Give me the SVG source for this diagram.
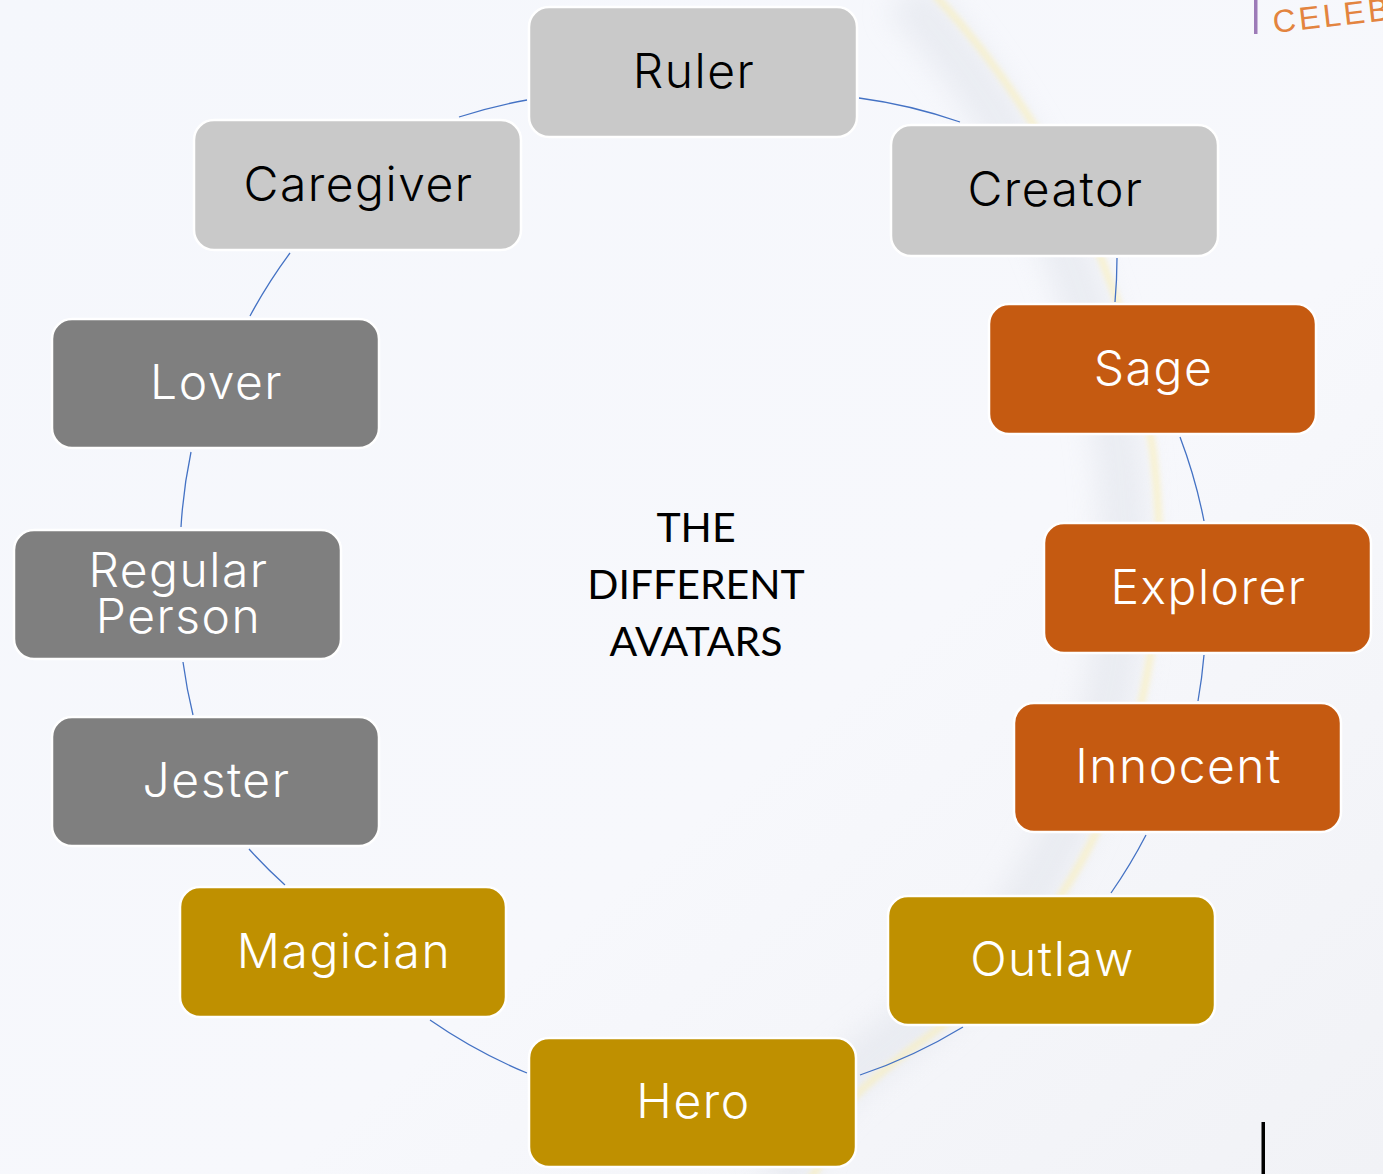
<svg xmlns="http://www.w3.org/2000/svg" width="1383" height="1174" viewBox="0 0 1383 1174">
  <defs>
    <linearGradient id="bg" x1="0" y1="0" x2="1" y2="1">
      <stop offset="0" stop-color="#F5F7FC"/>
      <stop offset="0.6" stop-color="#F7F8FC"/>
      <stop offset="1" stop-color="#F1F2F6"/>
    </linearGradient>
    <filter id="blur" x="-20%" y="-20%" width="140%" height="140%">
      <feGaussianBlur stdDeviation="14"/>
    </filter>
    <filter id="blur2" x="-20%" y="-20%" width="140%" height="140%">
      <feGaussianBlur stdDeviation="2.5"/>
    </filter>
    <style>
      .box { stroke: #FFFFFF; stroke-width: 2.5; }
      .light { fill: #C9C9C9; }
      .dark { fill: #7F7F7F; }
      .orange { fill: #C55A11; }
      .gold { fill: #BF9000; }
      .lbl { font-family: Inter, "Open Sans", "Liberation Sans", sans-serif; font-size: 48px; font-weight: 300; letter-spacing: 1.5px; text-anchor: middle; }
      .blk { fill: #000000; }
      .wht { fill: #FFFFFF; }
      .conn { fill: none; stroke: #4472C4; stroke-width: 1.3; }
      .title { font-family: Lato, "Open Sans", "Liberation Sans", sans-serif; font-size: 41px; text-anchor: middle; fill: #000000; }
    </style>
  </defs>

  <!-- background -->
  <rect x="0" y="0" width="1383" height="1174" fill="url(#bg)"/>
  <path d="M 905 -5 C 1040 140, 1135 360, 1123 580 C 1113 780, 1030 940, 900 1035 S 820 1120, 780 1180" fill="none" stroke="#E2E5EC" stroke-width="50" opacity="0.6" filter="url(#blur)"/>
  <path d="M 935 -5 C 1070 140, 1170 360, 1158 580 C 1148 780, 1060 940, 930 1035 S 850 1120, 810 1180" fill="none" stroke="#FCEFB0" stroke-width="8" opacity="0.5" filter="url(#blur2)"/>

  <!-- logo fragment -->
  <rect x="1254" y="0" width="3.5" height="34" fill="#9D7BB8"/>
  <text x="1274" y="33" transform="rotate(-6.5 1274 33)" font-family="'Liberation Sans', Arial, sans-serif" font-size="32" letter-spacing="3" fill="#E3843F">CELEB</text>

  <rect x="1261.5" y="1122" width="3.5" height="52" fill="#000000"/>

  <!-- connectors -->
  <g id="connectors">
    <path class="conn" d="M 859 98 A 515 515 0 0 1 960 122"/>
    <path class="conn" d="M 1117 258 A 515 515 0 0 1 1115 302"/>
    <path class="conn" d="M 1180 437 A 515 515 0 0 1 1204 521"/>
    <path class="conn" d="M 1204 655 A 515 515 0 0 1 1198 701"/>
    <path class="conn" d="M 1146 835 A 515 515 0 0 1 1111 893"/>
    <path class="conn" d="M 963 1027 A 515 515 0 0 1 860 1075"/>
    <path class="conn" d="M 527 1073 A 515 515 0 0 1 430 1020"/>
    <path class="conn" d="M 285 885 A 515 515 0 0 1 249 849"/>
    <path class="conn" d="M 193 715 A 515 515 0 0 1 183 662"/>
    <path class="conn" d="M 181 527 A 515 515 0 0 1 191 452"/>
    <path class="conn" d="M 250 316 A 515 515 0 0 1 290 253"/>
    <path class="conn" d="M 459 117 A 515 515 0 0 1 527 100"/>
  </g>

  <!-- center title -->
  <g id="title">
    <text class="title" x="696" y="542">THE</text>
    <text class="title" x="696" y="599">DIFFERENT</text>
    <text class="title" x="696" y="656">AVATARS</text>
  </g>

  <!-- nodes -->
  <g id="ruler">
    <rect class="box light" x="529" y="7" width="328" height="130" rx="20"/>
    <text class="lbl blk" x="694" y="88">Ruler</text>
  </g>
  <g id="creator">
    <rect class="box light" x="891" y="125" width="327" height="131" rx="20"/>
    <text class="lbl blk" x="1055.5" y="206">Creator</text>
  </g>
  <g id="sage">
    <rect class="box orange" x="989" y="304" width="327" height="130" rx="20"/>
    <text class="lbl wht" x="1153.5" y="385">Sage</text>
  </g>
  <g id="explorer">
    <rect class="box orange" x="1044" y="523" width="327" height="130" rx="20"/>
    <text class="lbl wht" x="1208.5" y="604">Explorer</text>
  </g>
  <g id="innocent">
    <rect class="box orange" x="1014" y="703" width="327" height="129" rx="20"/>
    <text class="lbl wht" x="1178.5" y="783">Innocent</text>
  </g>
  <g id="outlaw">
    <rect class="box gold" x="888" y="896" width="327" height="129" rx="20"/>
    <text class="lbl wht" x="1052.5" y="976">Outlaw</text>
  </g>
  <g id="hero">
    <rect class="box gold" x="529" y="1038" width="327" height="129" rx="20"/>
    <text class="lbl wht" x="693.5" y="1118">Hero</text>
  </g>
  <g id="magician">
    <rect class="box gold" x="180" y="887" width="326" height="130" rx="20"/>
    <text class="lbl wht" x="344" y="968">Magician</text>
  </g>
  <g id="jester">
    <rect class="box dark" x="52" y="717" width="327" height="129" rx="20"/>
    <text class="lbl wht" x="216.5" y="797">Jester</text>
  </g>
  <g id="regular-person">
    <rect class="box dark" x="14" y="530" width="327" height="129" rx="20"/>
    <text class="lbl wht" x="178.5" y="587">Regular</text>
    <text class="lbl wht" x="178.5" y="633">Person</text>
  </g>
  <g id="lover">
    <rect class="box dark" x="52" y="319" width="327" height="129" rx="20"/>
    <text class="lbl wht" x="216.5" y="399">Lover</text>
  </g>
  <g id="caregiver">
    <rect class="box light" x="194" y="120" width="327" height="130" rx="20"/>
    <text class="lbl blk" x="358.5" y="201">Caregiver</text>
  </g>
</svg>
